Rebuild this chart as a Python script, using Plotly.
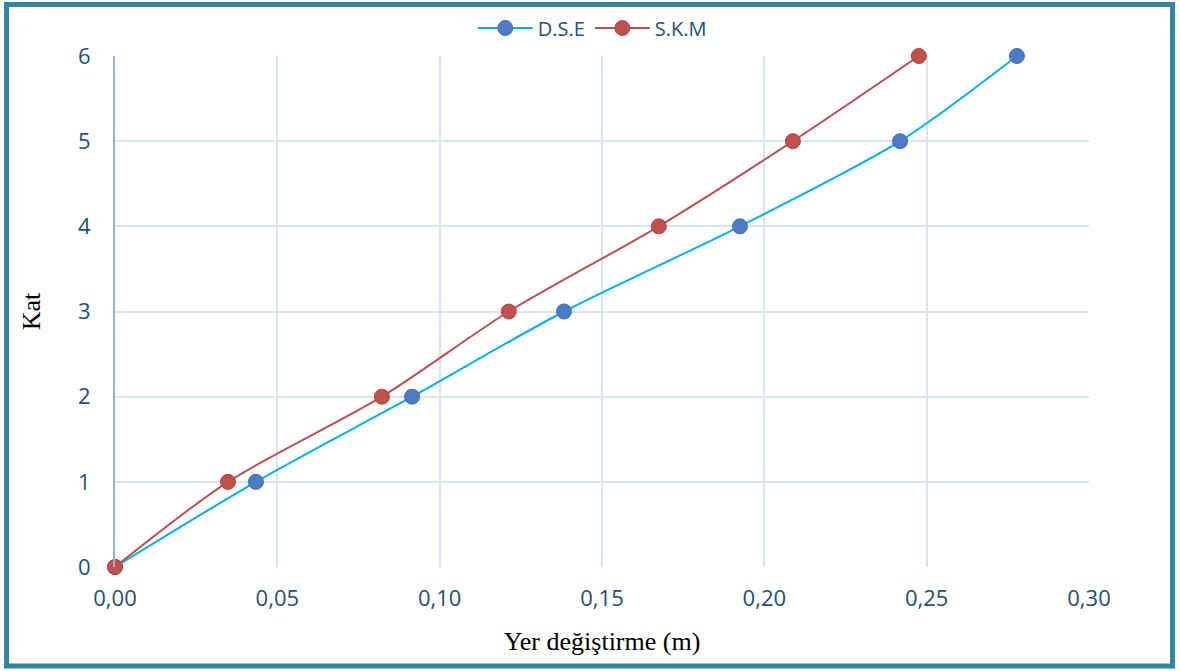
import plotly.graph_objects as go

# Storey displacement data
floors = [0, 1, 2, 3, 4, 5, 6]
dse_disp = [0.0, 0.0434, 0.0915, 0.1383, 0.1925, 0.2418, 0.2778]
skm_disp = [0.0, 0.0348, 0.0822, 0.1213, 0.1675, 0.2088, 0.2476]

x_ticks = [0.00, 0.05, 0.10, 0.15, 0.20, 0.25, 0.30]
y_ticks = [0, 1, 2, 3, 4, 5, 6]

tick_font = dict(family="Open Sans, Noto Sans, sans-serif", size=22, color="#1F4E79")
title_font = dict(family="Liberation Serif, Times New Roman, serif", size=26, color="black")

fig = go.Figure()
fig.add_trace(go.Scatter(
    x=dse_disp, y=floors, name="D.S.E", mode="lines+markers", cliponaxis=False,
    line=dict(color="#00B0F0", width=2, shape="spline", smoothing=0.8),
    marker=dict(color="#4A7BC4", size=15, line=dict(color="#3E6DB5", width=1)),
))
fig.add_trace(go.Scatter(
    x=skm_disp, y=floors, name="S.K.M", mode="lines+markers", cliponaxis=False,
    line=dict(color="#C0504D", width=2, shape="spline", smoothing=0.8),
    marker=dict(color="#C0504D", size=15, line=dict(color="#AD4340", width=1)),
))

# Outer frame around the whole chart
fig.add_shape(type="rect", xref="paper", yref="paper",
              x0=-0.1114, x1=1.0857, y0=-0.1937, y1=1.1008,
              line=dict(color="#31859C", width=5), fillcolor="rgba(0,0,0,0)",
              layer="below")

fig.update_layout(
    width=1180, height=671,
    margin=dict(l=115, r=91, t=56, b=104, autoexpand=False),
    paper_bgcolor="white", plot_bgcolor="white",
    separators=", ",
    showlegend=True,
    legend=dict(orientation="h", x=0.49, xanchor="center", y=1.0548, yanchor="middle",
                bgcolor="rgba(0,0,0,0)",
                font=dict(family="Open Sans, Noto Sans, sans-serif", size=20, color="#1F4E79"),
                itemwidth=55),
    xaxis=dict(
        range=[0, 0.30], tickvals=x_ticks, tickformat=".2f",
        showgrid=True, gridcolor="#D9E3F2", gridwidth=1.5,
        zeroline=False, showline=False, automargin=False,
        ticks="outside", ticklen=12, tickcolor="rgba(0,0,0,0)",
        tickfont=tick_font,
        title=dict(text="Yer değiştirme (m)", standoff=20, font=title_font),
    ),
    yaxis=dict(
        range=[0, 6], tickvals=y_ticks,
        showgrid=True, gridcolor="#D9E3F2", gridwidth=1.5,
        zeroline=False, showline=True, linecolor="#8EB4E3", linewidth=2,
        automargin=False,
        ticks="outside", ticklen=18, tickcolor="rgba(0,0,0,0)",
        tickfont=tick_font,
        title=dict(text="Kat", standoff=30, font=title_font),
    ),
)

fig.write_html("out.html")
